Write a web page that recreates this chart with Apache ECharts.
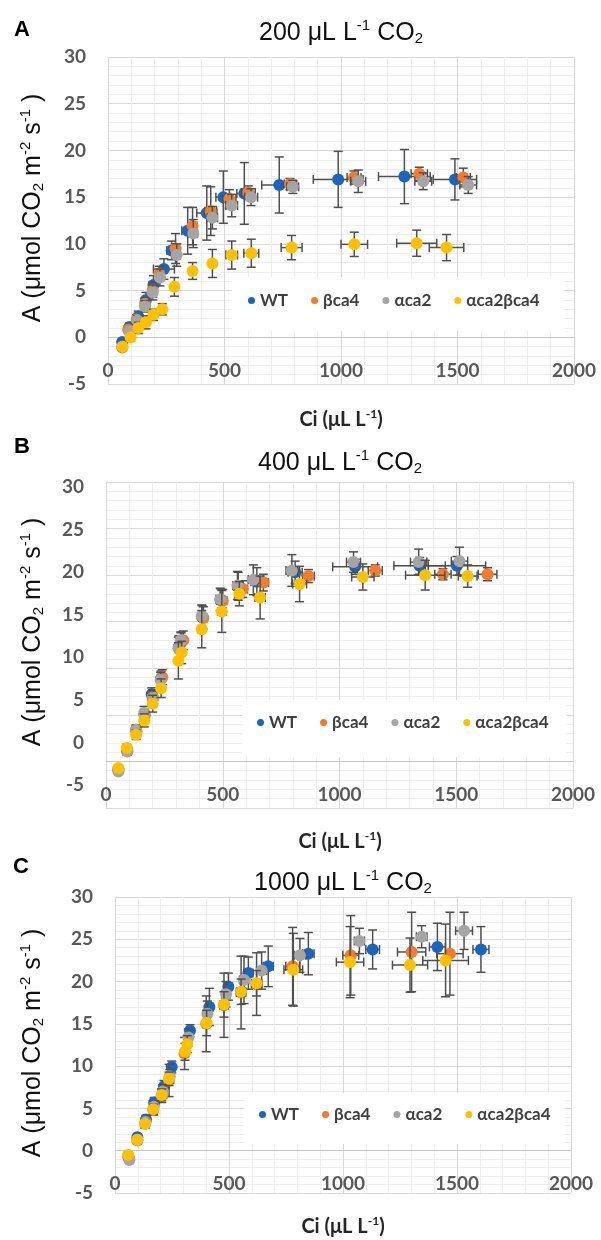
<!DOCTYPE html>
<html>
<head>
<meta charset="utf-8">
<script src="https://cdn.jsdelivr.net/npm/echarts@6/dist/echarts.min.js"></script>
<style>
  html, body { margin: 0; padding: 0; background: #ffffff; }
  #chart { width: 601px; height: 1240px; }
</style>
</head>
<body>
<div id="chart"></div>
<script>
// Genotypes and their marker colours
const groups = ['WT', 'βca4', 'αca2', 'αca2βca4'];
const groupColors = ['#1866C2', '#F47B2C', '#A5A5A5', '#FFC000'];

// Axis ranges shared by the three panels
const ciRange = [0, 2000, 500];
const aRange = [-5, 30, 5];

// Each row: [Ci (µL L-1), A (µmol CO2 m-2 s-1), Ci error, A error]
// Panel A: grown at 200 µL L-1 CO2
const A200_WT = [[61,-0.5,5,0.3],[92,1.1,6,0.4],[130,2.2,8,0.6],[163,4.0,10,0.8],[195,5.6,12,1.0],[240,7.3,45,1.1],[273,9.3,20,1.0],[342,11.4,25,2.5],[424,13.3,43,2.9],[495,15.0,32,2.8],[585,15.4,32,3.3],[735,16.3,75,3.0],[988,16.9,107,3.0],[1272,17.2,111,2.9],[1489,16.9,93,2.2]];
const A200_bca4 = [[61,-1.1,4,0.3],[87,0.8,5,0.4],[123,1.9,6,0.5],[159,3.6,8,0.6],[192,5.1,10,0.8],[220,6.8,12,0.8],[290,9.5,15,1.6],[363,11.9,18,2.0],[441,13.5,25,2.6],[521,14.8,28,1.0],[602,15.5,30,0.7],[781,16.4,25,0.6],[1056,17.1,30,0.7],[1336,17.5,35,0.7],[1525,17.1,30,1.0]];
const A200_aca2 = [[61,-1.0,4,0.3],[92,0.6,5,0.4],[127,1.8,6,0.5],[159,3.3,8,0.6],[192,4.8,10,0.8],[223,6.4,12,0.9],[295,8.8,15,1.2],[366,11.1,18,1.5],[448,12.8,22,1.2],[531,14.1,25,1.2],[614,15.0,28,0.9],[793,16.1,25,0.7],[1074,16.7,32,1.2],[1353,16.7,36,0.9],[1546,16.3,36,0.9]];
const A200_aca2bca4 = [[63,-1.0,4,0.3],[97,0.0,5,0.4],[130,1.0,6,0.6],[163,1.6,8,0.7],[195,2.4,10,0.6],[233,3.0,12,0.6],[285,5.4,12,1.0],[363,7.1,10,0.9],[448,7.9,12,1.5],[531,8.8,25,1.5],[615,9.0,32,1.5],[788,9.6,45,1.3],[1057,9.95,57,1.3],[1325,10.07,86,1.4],[1453,9.6,74,1.4]];

// Panel B: grown at 400 µL L-1 CO2
const B400_WT = [[53,-0.9,4,0.3],[91,1.2,5,0.4],[129,3.4,6,0.5],[165,5.0,8,0.6],[196,7.2,10,0.7],[236,8.9,12,0.8],[312,12.3,12,1.2],[322,12.8,12,1.0],[412,15.5,15,1.2],[492,17.3,18,1.2],[566,18.8,20,1.5],[646,19.3,25,1.5],[810,20.3,30,1.2],[1067,20.9,96,0.8],[1343,21.0,110,0.9],[1503,21.0,123,1.0]];
const B400_bca4 = [[53,-0.8,4,0.3],[91,1.1,5,0.4],[131,3.2,6,0.5],[166,4.9,8,0.6],[200,6.9,10,0.8],[241,9.05,12,0.8],[315,12.0,12,1.2],[331,13.0,12,1.0],[417,15.4,15,1.2],[500,17.26,18,1.2],[586,18.5,20,0.9],[674,19.2,22,0.9],[867,19.9,25,0.7],[1153,20.5,30,0.6],[1443,20.1,35,0.6],[1634,20.1,40,0.7]];
const B400_aca2 = [[53,-1.07,4,0.3],[91,1.07,5,0.4],[129,3.4,6,0.5],[163,5.2,8,0.7],[203,6.8,10,0.8],[234,8.75,12,0.8],[310,12.15,12,1.2],[320,13.0,12,0.9],[410,15.6,15,1.2],[489,17.4,18,1.2],[563,18.9,20,1.5],[631,19.5,22,1.6],[796,20.5,25,1.7],[1060,21.4,30,1.1],[1339,21.4,35,1.4],[1514,21.5,35,1.5]];
const B400_aca2bca4 = [[53,-0.71,4,0.3],[89,1.43,5,0.4],[129,2.86,6,0.5],[164,4.4,8,0.7],[200,6.2,10,0.9],[236,7.86,12,1.0],[310,10.8,12,1.95],[324,11.7,12,1.2],[410,14.2,15,2.0],[496,16.1,18,2.25],[571,18.0,20,1.3],[660,17.6,22,2.3],[829,19.05,30,1.9],[1100,19.8,48,1.4],[1367,20.0,84,1.6],[1549,19.9,40,1.2]];

// Panel C: grown at 1000 µL L-1 CO2
const C1000_WT = [[60,-0.8,4,0.3],[98,1.6,5,0.4],[136,3.7,6,0.5],[172,5.7,8,0.6],[215,7.6,10,0.7],[249,9.9,12,0.7],[329,14.2,12,0.7],[414,17.0,15,2.2],[497,19.4,18,1.6],[585,21.0,20,1.9],[672,21.8,22,2.4],[848,23.3,25,2.5],[1130,23.8,30,2.3],[1414,24.1,35,2.8],[1605,23.8,35,2.7]];
const C1000_bca4 = [[58,-0.6,4,0.3],[98,1.2,5,0.4],[132,3.2,6,0.5],[168,4.8,8,0.6],[205,6.5,10,0.8],[237,8.3,12,1.9],[305,11.5,12,1.9],[400,15.0,15,3.3],[478,17.2,18,3.8],[553,18.7,20,4.3],[621,19.7,22,3.7],[779,21.8,30,4.6],[1034,23.1,35,4.7],[1301,23.5,62,4.7],[1469,23.3,58,4.9]];
const C1000_aca2 = [[63,-1.1,4,0.3],[98,1.3,5,0.4],[134,3.4,6,0.5],[170,5.2,8,0.6],[210,7.0,10,0.8],[240,8.8,12,0.8],[322,13.4,12,1.0],[405,16.2,15,1.5],[487,18.5,18,1.5],[566,20.2,20,2.8],[643,21.3,22,2.2],[811,23.1,25,2.0],[1072,24.8,22,1.5],[1345,25.3,23,1.3],[1531,26.0,37,2.2]];
const C1000_aca2bca4 = [[58,-0.5,4,0.3],[98,1.3,5,0.4],[132,3.2,6,0.5],[168,4.9,8,0.6],[205,6.6,10,0.7],[237,8.5,12,0.8],[307,11.7,12,1.0],[317,12.6,12,1.0],[402,15.1,15,1.5],[478,17.3,18,1.5],[553,18.8,20,1.5],[621,19.8,22,1.5],[782,21.4,41,4.3],[1031,22.3,60,4.2],[1294,21.95,77,3.2],[1450,22.5,100,4.3]];

// Panel texts
const panelLetters = ['A', 'B', 'C'];
const panelTitles = ['200 μL L{sup|-1} CO{sub|2}', '400 μL L{sup|-1} CO{sub|2}', '1000 μL L{sup|-1} CO{sub|2}'];
const xTitle = 'Ci (μL L{sup|-1})';
const yTitle = 'A (μmol CO{sub|2} m{sup|-2} s{sup|-1} )';

const panelData = [
  [A200_WT, A200_bca4, A200_aca2, A200_aca2bca4],
  [B400_WT, B400_bca4, B400_aca2, B400_aca2bca4],
  [C1000_WT, C1000_bca4, C1000_aca2, C1000_aca2bca4]
];

// Layout of the three plot areas (pixels)
const plotBoxes = [
  { left: 108, top: 57, width: 466, height: 327 },
  { left: 106, top: 482, width: 467, height: 326 },
  { left: 115, top: 897, width: 456, height: 296 }
];
// Panel B prints its value column on a slightly tighter pitch than its grid
const bLabelBox = { left: 106, top: 487, width: 467, height: 298 };

const layoutText = [
  { letter: [22, 30], title: [341, 33], xTitle: [341, 420], yTitle: [33, 208] },
  { letter: [22, 447], title: [340, 463], xTitle: [340, 842], yTitle: [33, 632] },
  { letter: [21, 867], title: [343, 883], xTitle: [343, 1227], yTitle: [33, 1043] }
];
const legendBoxes = [
  { left: 232, top: 277, padding: [15, 24, 22, 16] },
  { left: 242, top: 700, padding: [14, 18, 26, 15] },
  { left: 244, top: 1093, padding: [13, 14, 21, 15] }
];

const FONT_TITLE = '"Liberation Sans", Arial, sans-serif';
const FONT_AXIS = 'Lato, "Open Sans", "Liberation Sans", sans-serif';
const TICK_COLOR = '#595959';

function scriptStyles(size, family, weight, fill) {
  const small = Math.round(size * 0.6);
  return {
    sup: { fontSize: small, fontFamily: family, fontWeight: weight, fill: fill, padding: [0, 0, Math.round(size * 0.55), 0] },
    sub: { fontSize: small, fontFamily: family, fontWeight: weight, fill: fill, padding: [Math.round(size * 0.45), 0, 0, 0] }
  };
}

function textEl(x, y, text, size, family, weight, fill, rotation) {
  return {
    type: 'text', x: x, y: y, rotation: rotation || 0, silent: true,
    style: {
      text: text, fontSize: size, fontFamily: family, fontWeight: weight, fill: fill,
      align: 'center', verticalAlign: 'middle',
      rich: scriptStyles(size, family, weight, fill)
    }
  };
}

// Error bars with end caps, drawn in data coordinates
function renderErrorBars(params, api) {
  const x = api.value(0), y = api.value(1), ex = api.value(2), ey = api.value(3);
  const c = api.coord([x, y]);
  const cap = 4.5;
  const style = { stroke: '#505050', lineWidth: 1.5, fill: null };
  const kids = [];
  if (ey > 0) {
    const hi = api.coord([x, y + ey])[1], lo = api.coord([x, y - ey])[1];
    kids.push({ type: 'line', shape: { x1: c[0], y1: hi, x2: c[0], y2: lo }, style: style });
    kids.push({ type: 'line', shape: { x1: c[0] - cap, y1: hi, x2: c[0] + cap, y2: hi }, style: style });
    kids.push({ type: 'line', shape: { x1: c[0] - cap, y1: lo, x2: c[0] + cap, y2: lo }, style: style });
  }
  if (ex > 0) {
    const l = api.coord([x - ex, y])[0], r = api.coord([x + ex, y])[0];
    kids.push({ type: 'line', shape: { x1: l, y1: c[1], x2: r, y2: c[1] }, style: style });
    kids.push({ type: 'line', shape: { x1: l, y1: c[1] - cap, x2: l, y2: c[1] + cap }, style: style });
    kids.push({ type: 'line', shape: { x1: r, y1: c[1] - cap, x2: r, y2: c[1] + cap }, style: style });
  }
  return { type: 'group', children: kids };
}

const grids = [], xAxes = [], yAxes = [], series = [], legends = [], graphics = [];

const tickLabel = { fontSize: 19, fontWeight: 'bold', color: TICK_COLOR, fontFamily: FONT_AXIS };

plotBoxes.forEach(function (box, p) {
  grids.push(Object.assign({ containLabel: false }, box));
  // the Ci axis crosses at A = 0, so lift it from the bottom edge by the -5..0 band
  const lift = box.height * (0 - aRange[0]) / (aRange[1] - aRange[0]);
  xAxes.push({
    type: 'value', gridIndex: p, min: ciRange[0], max: ciRange[1], interval: ciRange[2],
    offset: -lift,
    axisLine: { show: true, onZero: false, lineStyle: { color: '#C8C8C8', width: 1 } },
    axisTick: { show: false },
    axisLabel: Object.assign({ margin: 24, formatter: function (v) { return String(v); } }, tickLabel),
    splitLine: { show: true, lineStyle: { color: '#D9D9D9', width: 1 } },
    minorTick: { show: false, splitNumber: 5 },
    minorSplitLine: { show: true, lineStyle: { color: '#EEEEEE', width: 1 } }
  });
  yAxes.push({
    type: 'value', gridIndex: p, min: aRange[0], max: aRange[1], interval: aRange[2],
    axisLine: { show: false },
    axisTick: { show: false },
    axisLabel: Object.assign({ margin: 22, show: p !== 1 }, tickLabel),
    splitLine: { show: true, lineStyle: { color: '#D9D9D9', width: 1 } },
    minorTick: { show: false, splitNumber: 5 },
    minorSplitLine: { show: true, lineStyle: { color: '#EEEEEE', width: 1 } }
  });

  panelData[p].forEach(function (rows, g) {
    series.push({
      type: 'custom', xAxisIndex: p, yAxisIndex: p, data: rows,
      encode: { x: 0, y: 1 }, renderItem: renderErrorBars, clip: false,
      silent: true, z: 2 + 2 * g
    });
    series.push({
      name: groups[g], type: 'scatter', xAxisIndex: p, yAxisIndex: p, data: rows,
      symbol: 'circle', symbolSize: 12,
      itemStyle: { color: groupColors[g], opacity: 1 },
      z: 3 + 2 * g
    });
  });

  const lb = legendBoxes[p];
  legends.push({
    data: groups, left: lb.left, top: lb.top, padding: lb.padding,
    orient: 'horizontal', backgroundColor: '#ffffff', borderWidth: 0,
    icon: 'circle', itemWidth: 7, itemHeight: 7, itemGap: 23,
    selectedMode: false,
    textStyle: { fontSize: 17, fontWeight: 'bold', color: '#404040', fontFamily: FONT_AXIS, padding: [0, 0, 0, 0] }
  });

  const t = layoutText[p];
  graphics.push(textEl(t.letter[0], t.letter[1], panelLetters[p], 22, FONT_TITLE, 'bold', '#000000'));
  graphics.push(textEl(t.title[0], t.title[1], panelTitles[p], 25, FONT_TITLE, 'normal', '#111111'));
  graphics.push(textEl(t.xTitle[0], t.xTitle[1], xTitle, 20, FONT_AXIS, 'bold', '#262626'));
  graphics.push(textEl(t.yTitle[0], t.yTitle[1], yTitle, 25, FONT_TITLE, 'normal', '#111111', Math.PI / 2));
});

// Value column for panel B
grids.push(Object.assign({ containLabel: false }, bLabelBox));
xAxes.push({ type: 'value', gridIndex: 3, min: ciRange[0], max: ciRange[1], show: false });
yAxes.push({
  type: 'value', gridIndex: 3, min: aRange[0], max: aRange[1], interval: aRange[2],
  axisLine: { show: false }, axisTick: { show: false }, splitLine: { show: false },
  axisLabel: Object.assign({ margin: 22 }, tickLabel)
});

const chart = echarts.init(document.getElementById('chart'), null, { renderer: 'canvas' });
chart.setOption({
  backgroundColor: '#ffffff',
  animation: false,
  grid: grids,
  xAxis: xAxes,
  yAxis: yAxes,
  legend: legends,
  graphic: graphics,
  series: series
});
</script>
</body>
</html>
